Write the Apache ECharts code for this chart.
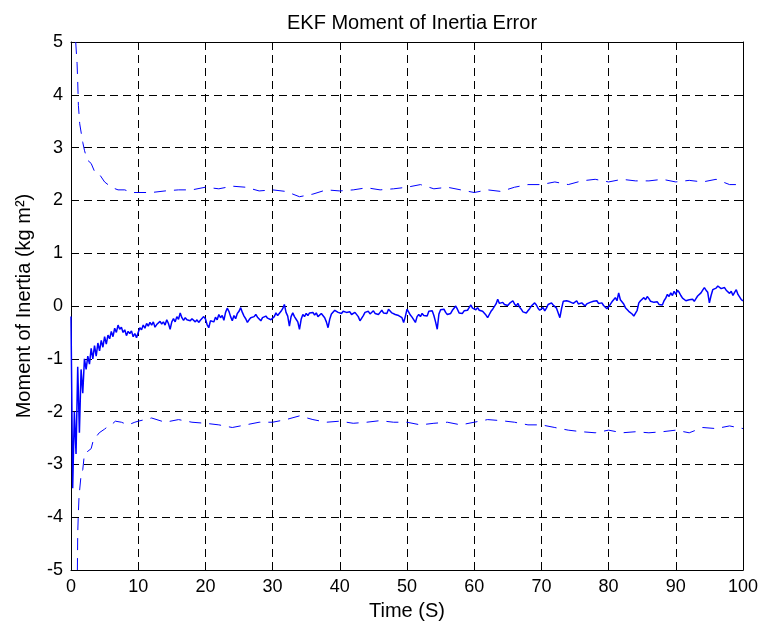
<!DOCTYPE html>
<html>
<head>
<meta charset="utf-8">
<script src="https://cdn.jsdelivr.net/npm/echarts@6/dist/echarts.min.js"></script>
<style>html,body{margin:0;padding:0;background:#fff}#chart{width:762px;height:626px}</style>
</head>
<body>
<div id="chart"></div>
<script>
// ---- data ----
const titleText = 'EKF Moment of Inertia Error';
const xAxisName = 'Time (S)';
const yAxisName = 'Moment of Inertia (kg m\u00B2)';
const xTicks = [0, 10, 20, 30, 40, 50, 60, 70, 80, 90, 100];
const yTicks = [-5, -4, -3, -2, -1, 0, 1, 2, 3, 4, 5];

// estimation error, sampled every 0.25 s from t = 0
const errorStart = 0;
const errorStep = 0.25;
const errorValues = [
 -0.2,-3.45,-2.0,-2.8,-1.15,-2.4,-1.2,-1.65,-1.0,-1.2,-0.95,-1.1,-0.8,-1.0,-0.75,-0.95,
 -0.7,-0.85,-0.65,-0.78,-0.58,-0.72,-0.55,-0.62,-0.48,-0.58,-0.42,-0.5,-0.36,-0.44,-0.4,-0.5,
 -0.45,-0.56,-0.48,-0.52,-0.47,-0.58,-0.52,-0.6,
 -0.5,-0.41,-0.45,-0.36,-0.42,-0.33,-0.38,-0.31,-0.36,-0.3,-0.4,-0.35,-0.38,-0.29,-0.34,-0.3,
 -0.36,-0.26,-0.33,-0.44,-0.3,-0.24,-0.3,-0.2,-0.25,-0.13,-0.22,-0.27,-0.22,-0.26,-0.23,-0.28,
 -0.24,-0.27,-0.3,-0.26,-0.31,-0.27,-0.3,-0.2,
 -0.24,-0.35,-0.41,-0.28,-0.25,-0.3,-0.21,-0.26,-0.16,-0.22,-0.18,-0.27,-0.12,-0.04,-0.1,-0.2,
 -0.28,-0.18,-0.24,-0.14,-0.1,-0.03,-0.12,-0.19,-0.24,-0.31,-0.26,-0.22,-0.25,-0.2,-0.16,-0.21,
 -0.24,-0.28,-0.22,-0.25,-0.19,-0.23,-0.2,-0.26,
 -0.28,-0.2,-0.13,-0.18,-0.15,-0.1,-0.05,0.03,-0.12,-0.19,-0.38,-0.2,-0.13,-0.2,-0.25,-0.3,
 -0.44,-0.25,-0.16,-0.2,-0.14,-0.18,-0.13,-0.15,-0.12,-0.17,-0.13,-0.2,-0.19,-0.14,-0.16,-0.22,
 -0.3,-0.41,-0.25,-0.15,-0.13,-0.08,-0.06,-0.12,
 -0.09,-0.14,-0.1,-0.08,-0.12,-0.09,-0.11,-0.16,-0.19,-0.12,-0.13,-0.2,-0.28,-0.31,-0.18,-0.12,
 -0.13,-0.1,-0.15,-0.12,-0.09,-0.14,-0.11,-0.16,-0.12,-0.08,-0.13,-0.1,-0.14,-0.06,-0.08,-0.13,
 -0.11,-0.16,-0.13,-0.18,-0.15,-0.22,-0.31,-0.2,
 -0.06,-0.03,-0.17,-0.21,-0.19,-0.31,-0.2,-0.16,-0.2,-0.14,-0.18,-0.15,-0.19,-0.1,-0.13,-0.09,
 -0.18,-0.3,-0.44,-0.15,-0.07,-0.1,-0.06,-0.12,-0.16,-0.19,-0.14,-0.08,-0.04,0.0,-0.06,-0.13,
 -0.1,-0.14,-0.09,-0.12,-0.08,-0.03,0.02,-0.04,
 -0.02,-0.07,-0.03,-0.08,-0.06,-0.1,-0.13,-0.17,-0.22,-0.16,-0.1,-0.06,-0.03,0.04,0.13,0.05,
 0.02,0.07,0.03,0.06,0.01,0.05,0.08,0.1,0.04,0.0,0.05,-0.02,-0.06,-0.11,-0.08,-0.13,
 -0.09,-0.05,0.0,0.03,0.06,0.02,-0.04,-0.08,
 -0.06,-0.03,-0.09,-0.04,0.03,0.0,0.06,0.02,-0.01,-0.04,-0.07,-0.22,-0.05,0.09,0.06,0.1,
 0.13,0.08,0.1,0.05,0.07,0.1,0.04,0.02,0.06,0.03,0.0,0.04,0.02,0.07,0.04,0.09,
 0.06,0.1,0.05,0.08,0.06,0.01,-0.02,-0.05,
 -0.02,0.03,0.08,0.12,0.16,0.1,0.25,0.12,0.09,0.04,-0.03,-0.06,-0.1,-0.13,-0.15,-0.19,
 -0.22,-0.08,0.06,0.1,0.13,0.16,0.12,0.18,0.14,0.09,0.11,0.07,0.05,0.08,0.03,0.0,
 0.02,0.1,0.15,0.22,0.18,0.25,0.2,0.28,
 0.22,0.3,0.26,0.2,0.15,0.12,0.1,0.08,0.12,0.1,0.13,0.09,0.14,0.19,0.22,0.25,
 0.3,0.35,0.3,0.26,0.06,0.2,0.31,0.28,0.34,0.38,0.4,0.33,0.3,0.35,0.3,0.27,
 0.24,0.28,0.2,0.26,0.31,0.22,0.19,0.12,
 0.1
];

// +/- bounds
const upperTimes = [0.7,0.9,1.0,1.1,1.3,1.75,2.0,2.4,3.0,3.5,4.2,5,6,7,8,9,10,12,14,16,18,20,22,24,26,28,30,32,34,36,38,40,42,44,46,48,50,52,54,56,58,60,62,64,66,68,70,72,74,76,78,80,82,84,86,88,90,92,94,96,98,100];
const upperValues = [5.0,4.6,4.25,3.8,3.45,3.1,2.95,2.77,2.7,2.55,2.5,2.35,2.25,2.2,2.2,2.15,2.15,2.15,2.18,2.2,2.2,2.25,2.22,2.27,2.25,2.18,2.2,2.17,2.07,2.12,2.2,2.18,2.2,2.24,2.2,2.22,2.25,2.3,2.22,2.25,2.2,2.15,2.2,2.17,2.25,2.3,2.3,2.35,2.3,2.37,2.4,2.35,2.4,2.37,2.37,2.4,2.35,2.38,2.35,2.4,2.3,2.3];
const lowerTimes = [0.95,1.0,1.1,1.2,1.5,1.75,2.0,2.5,3.0,3.3,3.6,4.2,5.0,5.5,6.0,6.6,7.5,8.5,9.5,10,12,14,16,18,20,22,24,26,28,30,32,34,36,38,40,42,44,46,48,50,52,54,56,58,60,62,64,66,68,70,72,74,76,78,80,82,84,86,88,90,92,94,96,98,100];
const lowerValues = [-5.0,-4.3,-3.9,-3.6,-3.2,-3.1,-2.8,-2.75,-2.7,-2.55,-2.5,-2.4,-2.33,-2.28,-2.25,-2.18,-2.2,-2.25,-2.2,-2.18,-2.12,-2.2,-2.15,-2.2,-2.22,-2.25,-2.3,-2.25,-2.2,-2.2,-2.15,-2.08,-2.15,-2.2,-2.18,-2.22,-2.2,-2.17,-2.2,-2.2,-2.25,-2.22,-2.2,-2.25,-2.2,-2.15,-2.17,-2.2,-2.25,-2.25,-2.3,-2.35,-2.38,-2.4,-2.35,-2.4,-2.38,-2.4,-2.38,-2.35,-2.4,-2.3,-2.32,-2.27,-2.32];

// ---- build ----
const errorData = errorValues.map((v, i) => [errorStart + i * errorStep, v]);
const upperData = upperTimes.map((t, i) => [t, upperValues[i]]);
const lowerData = lowerTimes.map((t, i) => [t, lowerValues[i]]);

const FONT = 'Liberation Sans, Arial, sans-serif';
const xMin = xTicks[0], xMax = xTicks[xTicks.length - 1], xInt = xTicks[1] - xTicks[0];
const yMin = yTicks[0], yMax = yTicks[yTicks.length - 1], yInt = yTicks[1] - yTicks[0];

const chart = echarts.init(document.getElementById('chart'), null, {renderer: 'canvas'});
const axisCommon = {
  type: 'value',
  axisLine: {show: true, onZero: false, lineStyle: {color: '#000', width: 1}},
  axisTick: {show: true, inside: true, length: 5, lineStyle: {color: '#000'}},
};
chart.setOption({
  animation: false,
  backgroundColor: '#fff',
  title: {
    text: titleText, left: 407, top: 8, textAlign: 'center',
    textStyle: {fontFamily: FONT, fontSize: 20, fontWeight: 'normal', color: '#000'}
  },
  grid: {left: 71, right: 19, top: 42, bottom: 54, show: false},
  xAxis: [
    Object.assign({}, axisCommon, {
      min: xMin, max: xMax, interval: xInt, position: 'bottom',
      name: xAxisName, nameLocation: 'middle', nameGap: 30,
      nameTextStyle: {fontFamily: FONT, fontSize: 20, color: '#000'},
      axisLabel: {fontFamily: FONT, fontSize: 18, color: '#000', margin: 8},
      splitLine: {show: true, lineStyle: {color: '#000', type: [8, 5], width: 1}}
    }),
    Object.assign({}, axisCommon, {
      min: xMin, max: xMax, interval: xInt, position: 'top',
      axisLabel: {show: false}, splitLine: {show: false}
    })
  ],
  yAxis: [
    Object.assign({}, axisCommon, {
      min: yMin, max: yMax, interval: yInt, position: 'left',
      name: yAxisName, nameLocation: 'middle', nameGap: 37, nameRotate: 90,
      nameTextStyle: {fontFamily: FONT, fontSize: 20, color: '#000'},
      axisLabel: {fontFamily: FONT, fontSize: 18, color: '#000', margin: 8},
      splitLine: {show: true, lineStyle: {color: '#000', type: [8, 5], width: 1}}
    }),
    Object.assign({}, axisCommon, {
      min: yMin, max: yMax, interval: yInt, position: 'right',
      axisLabel: {show: false}, splitLine: {show: false}
    })
  ],
  series: [
    {
      type: 'line', data: upperData, showSymbol: false, symbol: 'none', clip: true,
      lineStyle: {color: '#0000ff', width: 1, type: [12, 8]}, z: 3
    },
    {
      type: 'line', data: lowerData, showSymbol: false, symbol: 'none', clip: true,
      lineStyle: {color: '#0000ff', width: 1, type: [12, 8]}, z: 3
    },
    {
      type: 'line', data: errorData, showSymbol: false, symbol: 'none', clip: true,
      lineStyle: {color: '#0000ff', width: 1.5}, z: 4
    }
  ]
});
</script>
</body>
</html>
